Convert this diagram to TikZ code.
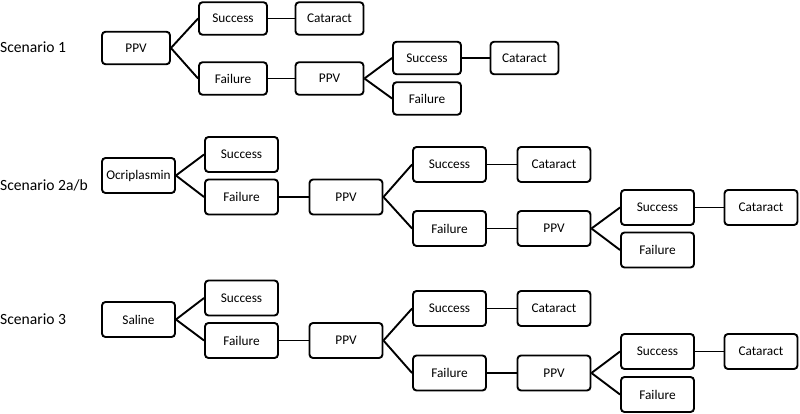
\documentclass[tikz,border=0pt]{standalone}
\usepackage{fontspec}
\setmainfont{Carlito}
\begin{document}
\begin{tikzpicture}[x=1pt,y=-1pt,
  every node/.style={font=\fontsize{13.3}{16}\selectfont},
  boxa/.style={draw,line width=1.9pt,rounded corners=3.5pt,minimum width=68pt,minimum height=32.5pt,inner sep=0pt},
  boxb/.style={draw,line width=1.9pt,rounded corners=3.5pt,minimum width=73pt,minimum height=35pt,inner sep=0pt},
  lab/.style={anchor=west,inner sep=0pt,font=\fontsize{15.6}{19}\selectfont},
  conn/.style={line width=1.9pt}]
\useasboundingbox (0,0) rectangle (800,414);
% Scenario 1
\node[lab] (l1) at (0,47) {Scenario 1};
\node[boxa] (a0) at (136,48) {PPV};
\node[boxa] (a1) at (233,18.5) {Success};
\node[boxa] (a2) at (329.5,18.5) {Cataract};
\node[boxa] (a3) at (233,78.5) {Failure};
\node[boxa] (a4) at (329.5,78.5) {PPV};
\node[boxa] (a5) at (427,58) {Success};
\node[boxa] (a6) at (524.5,58) {Cataract};
\node[boxa] (a7) at (427,98.5) {Failure};
\draw[conn] (a0.east) -- (a1.west);
\draw[conn] (a0.east) -- (a3.west);
\draw[conn] (a1) -- (a2);
\draw[conn] (a3) -- (a4);
\draw[conn] (a4.east) -- (a5.west);
\draw[conn] (a4.east) -- (a7.west);
\draw[conn] (a5) -- (a6);
% Scenario 2a/b
\node[lab] (l2) at (0,185) {Scenario 2a/b};
\node[boxb] (b0) at (138.5,175.5) {Ocriplasmin};
\node[boxb] (b1) at (241.5,154.5) {Success};
\node[boxb] (b2) at (241.5,197) {Failure};
\node[boxb] (b3) at (346,197) {PPV};
\node[boxb] (b4) at (449.5,164.5) {Success};
\node[boxb] (b5) at (554,164.5) {Cataract};
\node[boxb] (b6) at (449.5,228.5) {Failure};
\node[boxb] (b7) at (554,228.5) {PPV};
\node[boxb] (b8) at (657.5,207.5) {Success};
\node[boxb] (b9) at (761,207.5) {Cataract};
\node[boxb] (b10) at (657.5,250) {Failure};
\draw[conn] (b0.east) -- (b1.west);
\draw[conn] (b0.east) -- (b2.west);
\draw[conn] (b2) -- (b3);
\draw[conn] (b3.east) -- (b4.west);
\draw[conn] (b3.east) -- (b6.west);
\draw[conn] (b4) -- (b5);
\draw[conn] (b6) -- (b7);
\draw[conn] (b7.east) -- (b8.west);
\draw[conn] (b7.east) -- (b10.west);
\draw[conn] (b8) -- (b9);
% Scenario 3
\node[lab] (l3) at (0,319) {Scenario 3};
\node[boxb] (c0) at (138.5,319.5) {Saline};
\node[boxb] (c1) at (241.5,298) {Success};
\node[boxb] (c2) at (241.5,340.5) {Failure};
\node[boxb] (c3) at (346,340.5) {PPV};
\node[boxb] (c4) at (449.5,308.5) {Success};
\node[boxb] (c5) at (554,308.5) {Cataract};
\node[boxb] (c6) at (449.5,373) {Failure};
\node[boxb] (c7) at (554,373) {PPV};
\node[boxb] (c8) at (657.5,351.5) {Success};
\node[boxb] (c9) at (761,351.5) {Cataract};
\node[boxb] (c10) at (657.5,394.5) {Failure};
\draw[conn] (c0.east) -- (c1.west);
\draw[conn] (c0.east) -- (c2.west);
\draw[conn] (c2) -- (c3);
\draw[conn] (c3.east) -- (c4.west);
\draw[conn] (c3.east) -- (c6.west);
\draw[conn] (c4) -- (c5);
\draw[conn] (c6) -- (c7);
\draw[conn] (c7.east) -- (c8.west);
\draw[conn] (c7.east) -- (c10.west);
\draw[conn] (c8) -- (c9);
\end{tikzpicture}
\end{document}
